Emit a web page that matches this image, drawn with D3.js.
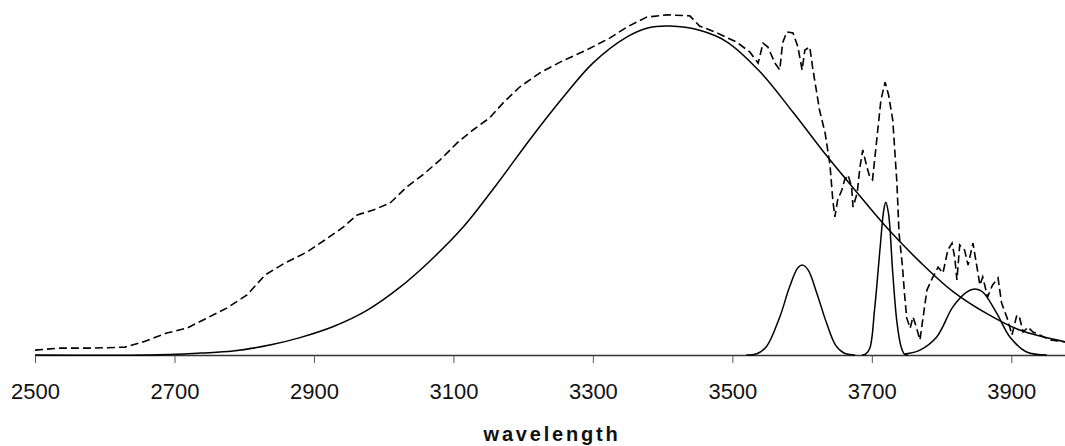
<!DOCTYPE html>
<html>
<head>
<meta charset="utf-8">
<script src="https://cdn.jsdelivr.net/npm/d3@7"></script>
<style>
  body { margin: 0; background: #fff; }
  svg { display: block; }
</style>
</head>
<body>
<svg id="chart" width="1065" height="446"></svg>
<script>
var width = 1065;
var height = 446;

// tick labels on the wavelength axis
const xTicks = [2500, 2700, 2900, 3100, 3300, 3500, 3700, 3900];

// measured spectrum (dashed), [wavelength, intensity]
const measured = [
  [2500,1.5],[2536,2.1],[2583,2.1],[2629,2.4],[2655,4.0],[2689,6.7],[2718,8.2],[2747,11.3],
  [2775,14.3],[2804,18.3],[2830,24.4],[2858,28.0],[2890,31.4],[2916,35.1],[2942,39.0],[2962,42.7],
  [2985,44.2],[3009,46.3],[3033,51.2],[3056,54.9],[3081,59.5],[3105,64.6],[3128,68.6],[3152,72.3],
  [3171,76.8],[3195,81.7],[3224,86.0],[3253,89.3],[3291,93.0],[3324,96.6],[3349,100.0],[3377,103.0],
  [3406,103.7],[3439,103.4],[3453,100.3],[3478,98.2],[3506,95.4],[3525,92.4],[3537,89.0],[3544,95.1],
  [3551,93.9],[3561,89.0],[3568,86.9],[3572,95.1],[3578,98.5],[3587,98.2],[3594,93.9],[3600,86.9],
  [3604,93.0],[3611,93.9],[3615,87.8],[3621,79.9],[3625,74.7],[3633,67.7],[3640,57.9],[3644,47.3],
  [3647,42.1],[3651,47.3],[3657,50.3],[3661,53.4],[3666,54.9],[3671,51.2],[3673,45.1],[3679,49.4],
  [3683,57.3],[3687,62.5],[3693,57.3],[3697,54.3],[3701,53.4],[3707,65.5],[3713,77.7],[3719,83.2],
  [3724,79.3],[3730,71.6],[3736,52.4],[3739,37.2],[3744,26.8],[3747,18.3],[3750,11.3],[3755,8.2],
  [3759,11.6],[3763,9.1],[3769,4.6],[3773,10.7],[3779,19.8],[3787,23.5],[3795,26.8],[3802,25.0],
  [3809,32.0],[3815,34.1],[3819,29.6],[3822,22.9],[3826,33.5],[3833,32.0],[3838,27.4],[3845,34.1],
  [3851,26.5],[3855,21.3],[3859,23.8],[3866,17.7],[3873,21.3],[3881,23.5],[3886,15.9],[3894,11.3],
  [3901,6.1],[3908,12.2],[3912,11.3],[3917,7.0],[3924,8.5],[3931,7.0],[3941,6.1],[3955,4.6],[3977,4.0]
];

// fitted bands (solid)
const bandBroad = [
  [2500,0],[2662,0],[2737,0.6],[2784,1.2],[2840,3.2],[2880,5.3],[2927,8.6],[2976,13.6],[3023,20.6],
  [3066,28.6],[3114,39.0],[3162,52.0],[3210,65.8],[3257,78.5],[3300,89.0],[3349,97.0],[3380,99.8],
  [3410,100.3],[3453,99.0],[3492,95.5],[3539,86.5],[3587,74.0],[3635,60.8],[3673,51.0],[3722,38.7],
  [3769,28.4],[3816,19.4],[3865,12.6],[3912,7.6],[3977,4.0]
];
const band3600 = [
  [3520,0],[3535,0.4],[3549,2.6],[3568,11.6],[3582,20.7],[3594,26.6],[3601,27.4],[3609,25.8],
  [3621,18.9],[3635,9.8],[3648,3.0],[3660,0.6],[3676,0]
];
const band3720 = [
  [3686,0],[3691,0.3],[3697,2.0],[3704,14],[3712,33],[3717,44],[3720,46.6],[3724,43],[3730,25],
  [3736,10],[3742,2.5],[3747,0.2],[3752,0]
];
const band3850 = [
  [3747,0.3],[3769,1.5],[3793,5.5],[3816,14.6],[3836,19.2],[3848,20.1],[3859,19.2],[3879,12.8],
  [3898,5.5],[3922,0.9],[3951,0]
];

var svg = d3.select('#chart');

var x = d3.scaleLinear()
    .domain([2500, 3977])
    .range([35, 1065]);

var y = d3.scaleLinear()
    .domain([0, 100])
    .range([355, 27]);

var lineRough = d3.line()
    .x(function (d) { return x(d[0]); })
    .y(function (d) { return y(d[1]); });

var lineSmooth = d3.line()
    .x(function (d) { return x(d[0]); })
    .y(function (d) { return y(d[1]); })
    .curve(d3.curveCatmullRom.alpha(0.5));

svg.append('defs').append('clipPath')
    .attr('id', 'plotClip')
  .append('rect')
    .attr('x', 35).attr('y', 0)
    .attr('width', 1030).attr('height', 356);

// axis first so curves sit on top of it
var axis = svg.append('g')
    .attr('transform', 'translate(0,' + y(0) + ')')
    .call(d3.axisBottom(x)
        .tickValues(xTicks)
        .tickFormat(d3.format('d'))
        .tickSize(8)
        .tickSizeOuter(0)
        .tickPadding(20));

axis.select('.domain')
    .attr('stroke', '#333')
    .attr('stroke-width', 1.3);
axis.selectAll('.tick line')
    .attr('stroke', '#555')
    .attr('stroke-width', 1);
axis.selectAll('.tick text')
    .style('font-family', 'Arial, "Liberation Sans", sans-serif')
    .style('font-size', '22px')
    .attr('fill', '#111');

var plot = svg.append('g').attr('clip-path', 'url(#plotClip)');

plot.append('path')
    .datum(measured)
    .attr('d', lineRough)
    .attr('fill', 'none')
    .attr('stroke', '#000')
    .attr('stroke-width', 1.6)
    .attr('stroke-dasharray', '8,4');

[bandBroad, band3600, band3720, band3850].forEach(function (band) {
  plot.append('path')
      .datum(band)
      .attr('d', lineSmooth)
      .attr('fill', 'none')
      .attr('stroke', '#000')
      .attr('stroke-width', 1.5);
});

svg.append('text')
    .attr('x', 552)
    .attr('y', 441)
    .attr('text-anchor', 'middle')
    .style('font-family', 'Arial, "Liberation Sans", sans-serif')
    .style('font-size', '20px')
    .style('font-weight', 'bold')
    .style('letter-spacing', '2.8px')
    .attr('fill', '#111')
    .text('wavelength');
</script>
</body>
</html>
